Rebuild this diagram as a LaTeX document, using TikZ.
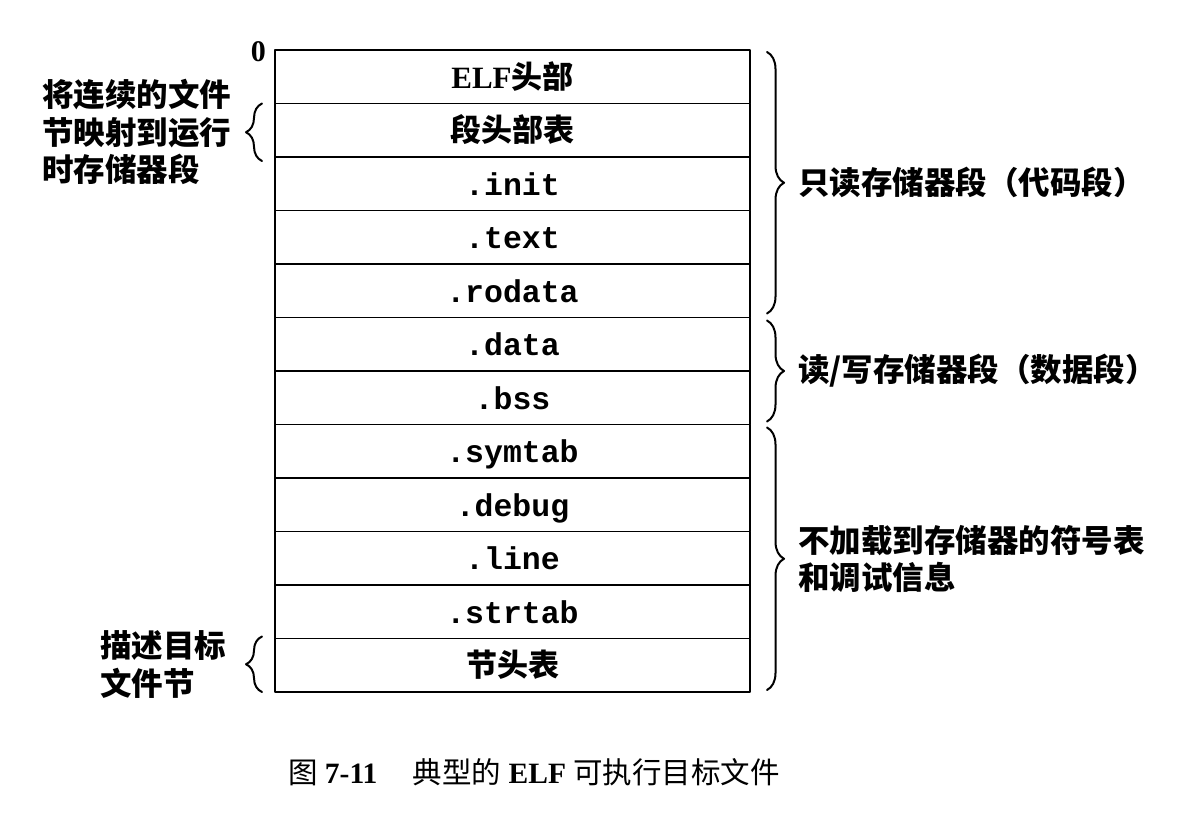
\documentclass[tikz,border=0pt]{standalone}
\usepackage{fontspec}
\setmainfont{Liberation Serif}
\setmonofont{Liberation Mono}
\newfontfamily\cjk{Noto Sans CJK SC}
\usetikzlibrary{positioning,decorations.pathreplacing}
\newcommand{\zw}[1]{{\cjk\bfseries #1}}
\newcommand{\zh}[1]{{\cjk #1}}
\tikzset{
  sect/.style={draw,line width=1.9pt,minimum width=475pt,minimum height=53.5pt,outer sep=0pt,inner sep=0pt,
    text height=27pt,text depth=4pt,font=\fontsize{31pt}{37pt}\selectfont\bfseries},
  code/.style={sect,font=\fontsize{31.5pt}{37pt}\selectfont\ttfamily\bfseries},
  rbrace/.style={decorate,decoration={brace,amplitude=17pt},line width=2pt},
  lbrace/.style={decorate,decoration={brace,amplitude=16pt},line width=2pt},
  side/.style={font=\fontsize{31.5pt}{37.5pt}\selectfont\cjk\bfseries,inner sep=0pt,align=left},
}
\begin{document}
\begin{tikzpicture}[x=1pt,y=1pt,line cap=round,line join=round]
\useasboundingbox (0,0) rectangle (1190,812);
% the sections of the file
\node[sect] (elf) at (512.5,735.25) {ELF\zw{头部}};
\node[sect,below=0pt of elf] (phdr) {\zw{段头部表}};
\node[code,below=0pt of phdr] (init) {.init};
\node[code,below=0pt of init] (text) {.text};
\node[code,below=0pt of text] (rodata) {.rodata};
\node[code,below=0pt of rodata] (data) {.data};
\node[code,below=0pt of data] (bss) {.bss};
\node[code,below=0pt of bss] (symtab) {.symtab};
\node[code,below=0pt of symtab] (debug) {.debug};
\node[code,below=0pt of debug] (line) {.line};
\node[code,below=0pt of line] (strtab) {.strtab};
\node[sect,below=0pt of strtab] (shdr) {\zw{节头表}};
\node[font=\fontsize{30pt}{30pt}\selectfont\bfseries,anchor=east,inner sep=0pt] (zero) at ([xshift=-9pt,yshift=-2pt]elf.north west) {0};

% braces on the right
\draw[rbrace] ([xshift=17pt,yshift=-2pt]elf.north east) -- ([xshift=17pt,yshift=4pt]rodata.south east)
  node[side,midway,anchor=west,xshift=30pt] (ro) {只读存储器段（代码段）};
\draw[rbrace] ([xshift=17pt,yshift=-3pt]data.north east) -- ([xshift=17pt,yshift=3pt]bss.south east)
  node[side,midway,anchor=west,xshift=30pt] (rw) {读/写存储器段（数据段）};
\draw[rbrace] ([xshift=17pt,yshift=-3pt]symtab.north east) -- ([xshift=17pt,yshift=2pt]shdr.south east)
  node[side,midway,anchor=west,xshift=30pt] (noload) {不加载到存储器的符号表\\和调试信息};

% braces on the left
\draw[lbrace] ([xshift=-13pt,yshift=-4pt]phdr.south west) -- ([xshift=-13pt]phdr.north west)
  node[side,midway,anchor=east,xshift=-30pt] (mapnote) {将连续的文件\\节映射到运行\\时存储器段};
\draw[lbrace] ([xshift=-13pt]shdr.south west) -- ([xshift=-13pt,yshift=2pt]shdr.north west)
  node[side,midway,anchor=east,xshift=-35pt] (descnote) {描述目标\\文件节};

\node[font=\fontsize{29.5pt}{35pt}\selectfont] (caption) at ([xshift=21.5pt,yshift=-80pt]shdr.south)
  {\zh{图} \textbf{7-11}\hspace{1.2em}\zh{典型的} \textbf{ELF} \zh{可执行目标文件}};
\end{tikzpicture}
\end{document}
